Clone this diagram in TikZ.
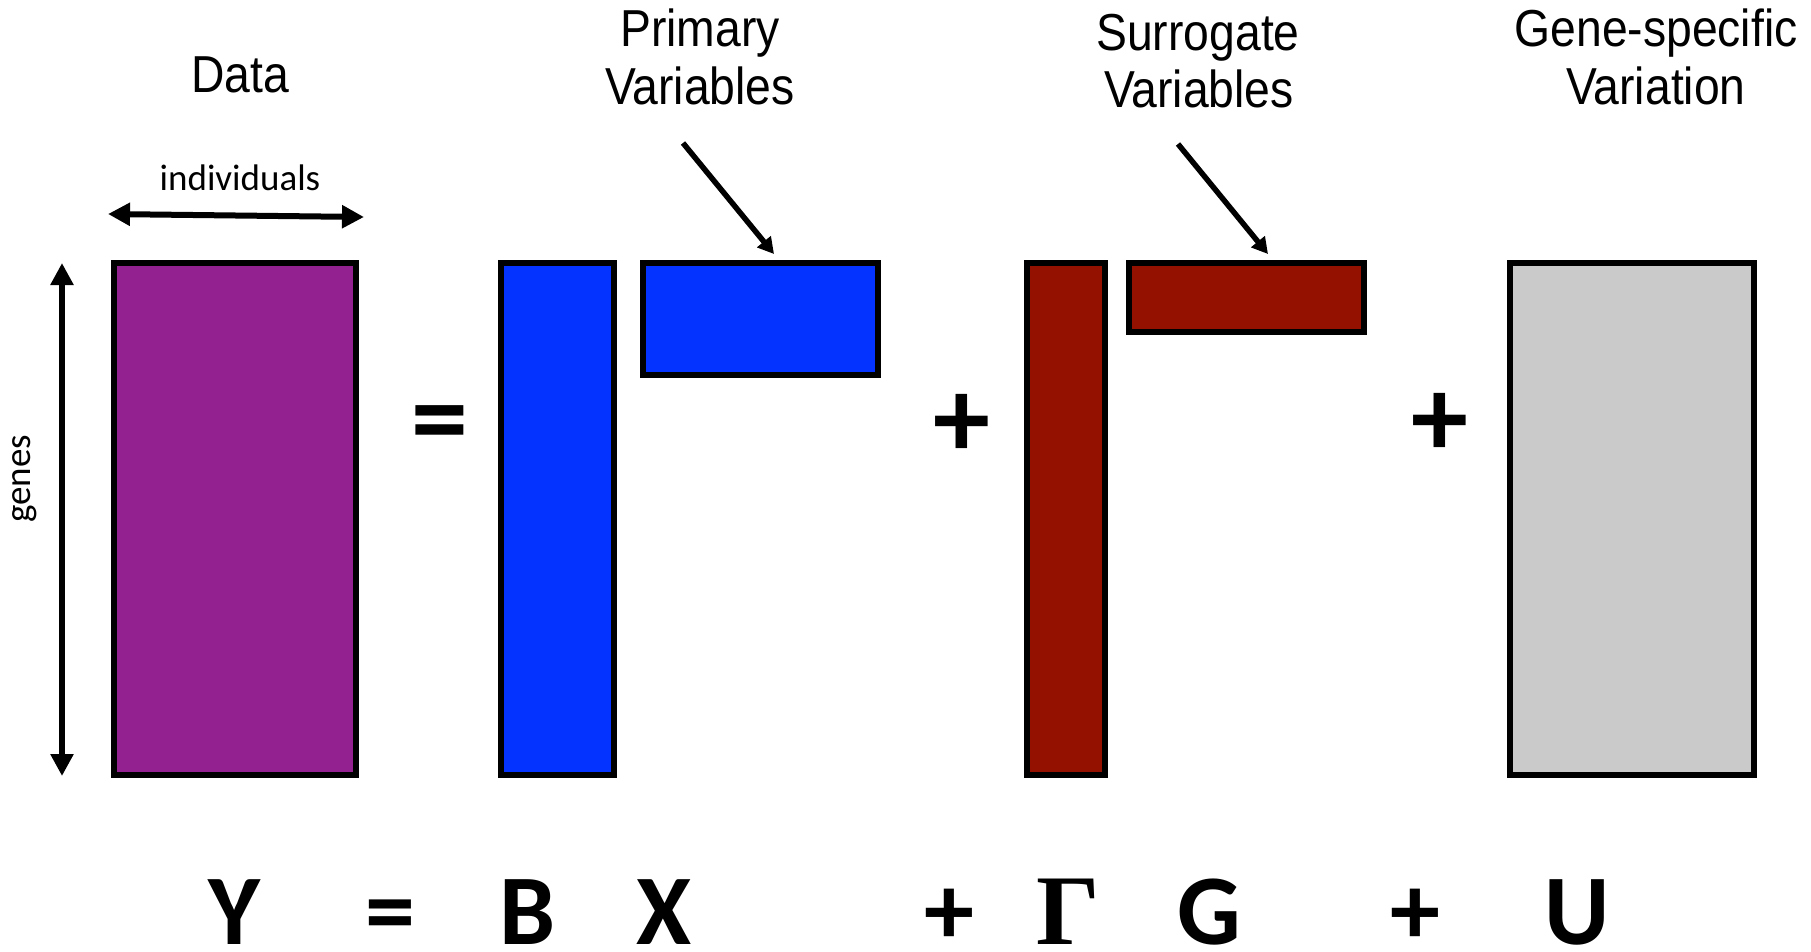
\documentclass[tikz,border=0pt]{standalone}
\usepackage{fontspec}
\usetikzlibrary{arrows.meta}
\newfontfamily\calfont{Carlito}
\newfontfamily\helfont{Liberation Sans}
\newfontfamily\serfont{Liberation Serif}
\definecolor{dpurple}{RGB}{147,33,143}
\definecolor{dblue}{RGB}{4,51,255}
\definecolor{dred}{RGB}{148,17,0}
\definecolor{dgray}{RGB}{202,202,202}
\begin{document}
\begin{tikzpicture}[x=1pt,y=-1pt,
  mat/.style={draw=black,line width=5.5pt,inner sep=0pt,outer sep=0pt,anchor=center},
  head/.style={font=\helfont\fontsize{52}{58}\selectfont,xscale=0.89,anchor=base,inner sep=0pt},
  small/.style={font=\calfont\fontsize{37}{40}\selectfont,inner sep=0pt},
  bigsym/.style={font=\calfont\bfseries\fontsize{114}{120}\selectfont,inner sep=0pt,anchor=center},
  eq/.style={font=\calfont\bfseries\fontsize{100}{110}\selectfont,inner sep=0pt,anchor=base},
  dbl/.style={line width=6pt,{Triangle[length=22pt,width=22pt]}-{Triangle[length=22pt,width=22pt]}},
  ptr/.style={line width=5.5pt,-{Triangle[length=16pt,width=17pt]}}
]
\useasboundingbox (0,0) rectangle (1811,951);
% matrices
\node[mat,fill=dpurple,minimum width=242pt,minimum height=512pt] (Ym) at (235,519) {};
\node[mat,fill=dblue,minimum width=113pt,minimum height=512pt] (Bm) at (557.5,519) {};
\node[mat,fill=dblue,minimum width=235pt,minimum height=112pt] (Xm) at (760.5,319) {};
\node[mat,fill=dred,minimum width=78pt,minimum height=512pt] (Gam) at (1066,519) {};
\node[mat,fill=dred,minimum width=235pt,minimum height=69pt] (Gm) at (1246.5,297.5) {};
\node[mat,fill=dgray,minimum width=244pt,minimum height=512pt] (Um) at (1632,519) {};
% headers
\node[head] (hdata) at (240,92) {Data};
\node[head] (hprim1) at (700,46) {Primary};
\node[head] (hprim2) at (700,104) {Variables};
\node[head] (hsur1) at (1198,50) {Surrogate};
\node[head] (hsur2) at (1199,107) {Variables};
\node[head] (hgen1) at (1656,46) {Gene-specific};
\node[head] (hgen2) at (1656,104) {Variation};
% dimension arrows
\node[small,anchor=base] (lind) at (240,190) {individuals};
\node[small,rotate=90] (lgenes) at (25,479) {genes};
\coordinate (iL) at (108,214);
\coordinate (iR) at (364,217);
\draw[dbl] (iL) -- (iR);
\coordinate (gT) at (62,263);
\coordinate (gB) at (62,776);
\draw[dbl] (gT) -- (gB);
% pointer arrows
\coordinate (p1) at (683,143);
\coordinate (p1e) at (774,254);
\draw[ptr] (p1) -- (p1e);
\coordinate (p2) at (1178,144);
\coordinate (p2e) at (1268,254);
\draw[ptr] (p2) -- (p2e);
% operators
\node[bigsym] (eqm) at (440,431) {=};
\node[bigsym] (pl1) at (962,426) {+};
\node[bigsym] (pl2) at (1440,425) {+};
% equation
\node[eq] (eY) at (234,944) {Y};
\node[eq] (eEq) at (390,944) {=};
\node[eq] (eB) at (528,944) {B};
\node[eq] (eX) at (664,944) {X};
\node[eq] (eP1) at (949,944) {+};
\node[eq,font=\serfont\bfseries\fontsize{100}{110}\selectfont] (eGa) at (1068,944) {Γ};
\node[eq] (eG) at (1209,944) {G};
\node[eq] (eP2) at (1415,944) {+};
\node[eq] (eU) at (1577,944) {U};
\end{tikzpicture}
\end{document}
